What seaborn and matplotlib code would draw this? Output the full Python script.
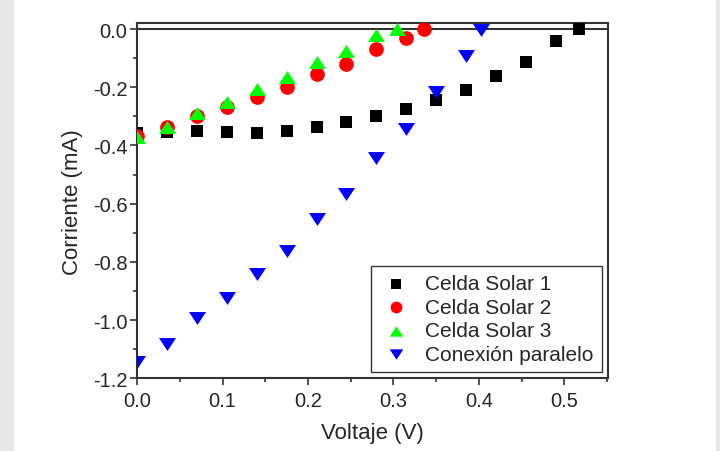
import numpy as np
import pandas as pd
import matplotlib
matplotlib.use("Agg")
import matplotlib.pyplot as plt
from matplotlib.patches import Rectangle
from matplotlib.ticker import MultipleLocator
import seaborn as sns

# I-V curves (V, mA)
v_celda1 = [0.0, 0.035, 0.07, 0.105, 0.14, 0.175, 0.21, 0.245, 0.28, 0.315,
            0.35, 0.385, 0.42, 0.455, 0.49, 0.517]
i_celda1 = [-0.358, -0.355, -0.352, -0.355, -0.356, -0.349, -0.336, -0.321, -0.298, -0.275,
            -0.243, -0.211, -0.160, -0.114, -0.042, 0.0]

v_celda2 = [0.0, 0.035, 0.07, 0.105, 0.14, 0.175, 0.21, 0.245, 0.28, 0.315, 0.336]
i_celda2 = [-0.367, -0.338, -0.300, -0.269, -0.235, -0.200, -0.155, -0.120, -0.069, -0.031, 0.0]

v_celda3 = [0.0, 0.035, 0.07, 0.105, 0.14, 0.175, 0.21, 0.245, 0.28, 0.304]
i_celda3 = [-0.370, -0.337, -0.288, -0.251, -0.205, -0.166, -0.114, -0.074, -0.020, 0.0]

v_paralelo = [0.0, 0.035, 0.07, 0.105, 0.14, 0.175, 0.21, 0.245, 0.28, 0.315,
              0.35, 0.385, 0.402]
i_paralelo = [-1.143, -1.082, -0.994, -0.923, -0.840, -0.763, -0.653, -0.567, -0.444, -0.344,
              -0.218, -0.092, -0.004]

etiquetas = ["Celda Solar 1", "Celda Solar 2", "Celda Solar 3", "Conexión paralelo"]

sns.set_style("ticks")
plt.rcParams["font.family"] = ["Liberation Sans", "DejaVu Sans"]
plt.rcParams["axes.unicode_minus"] = False

# wide, flat triangles like the original (Origin style)
tri_up = [(0, 0.76), (-1, -0.76), (1, -0.76)]
tri_down = [(0, -0.76), (-1, 0.76), (1, 0.76)]

fig = plt.figure(figsize=(7.2, 4.52), dpi=100)
ax = fig.add_axes([0.1903, 0.1608, 0.6542, 0.7854])

series = [
    (v_celda1, i_celda1, "s", "#000000", 85),
    (v_celda2, i_celda2, "o", "#ff0000", 112),
    (v_celda3, i_celda3, tri_up, "#00ff00", 150),
    (v_paralelo, i_paralelo, tri_down, "#0000ff", 150),
]
for (vx, iy, mk, col, sz), lab in zip(series, etiquetas):
    df = pd.DataFrame({"Voltaje": vx, "Corriente": iy})
    sns.scatterplot(data=df, x="Voltaje", y="Corriente", marker=mk, color=col,
                    s=sz, linewidth=0, label=lab, ax=ax, zorder=3)

ax.axhline(0, color="#333333", lw=1.5, zorder=2)

ax.set_xlim(0, 0.551)
ax.set_ylim(-1.2, 0.0196)
ax.xaxis.set_major_locator(MultipleLocator(0.1))
ax.xaxis.set_minor_locator(MultipleLocator(0.05))
ax.yaxis.set_major_locator(MultipleLocator(0.2))
ax.yaxis.set_minor_locator(MultipleLocator(0.1))
ax.xaxis.set_major_formatter(matplotlib.ticker.FormatStrFormatter("%.1f"))
ax.yaxis.set_major_formatter(matplotlib.ticker.FormatStrFormatter("%.1f"))

for sp in ax.spines.values():
    sp.set_color("#333333")
    sp.set_linewidth(1.5)
ax.tick_params(which="major", direction="out", length=5, width=1.2, color="#333333",
               labelsize=14.5, pad=2)
ax.tick_params(axis="x", which="major", pad=4)
ax.tick_params(which="minor", direction="out", length=3, width=1.2, color="#333333")

ax.set_xlabel("Voltaje (V)", fontsize=16, labelpad=9)
ax.set_ylabel("Corriente (mA)", fontsize=16, labelpad=7)

leg = ax.legend(loc="lower right", fontsize=15, frameon=True, fancybox=False,
                edgecolor="#333333", framealpha=1, markerscale=0.8,
                labelspacing=0.22, handlelength=1.6, handletextpad=0.6,
                borderaxespad=0.3, borderpad=0.4)
leg.get_frame().set_linewidth(1.0)

# light grey strips at the picture edges
fig.patches.append(Rectangle((0, 0), 13 / 720, 1, transform=fig.transFigure,
                             color="#e6e7e8", zorder=0))
fig.patches.append(Rectangle((716 / 720, 0), 4 / 720, 1, transform=fig.transFigure,
                             color="#e6e7e8", zorder=0))

fig.savefig("out.png", dpi=100)
